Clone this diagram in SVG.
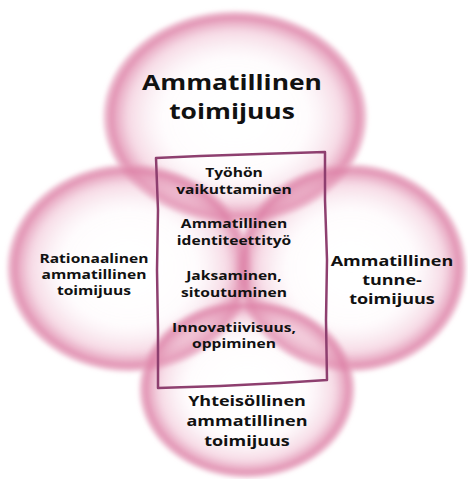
<svg xmlns="http://www.w3.org/2000/svg" width="468" height="479" viewBox="0 0 468 479">
<defs>
<radialGradient id="bubble" cx="50%" cy="50%" r="50%">
<stop offset="0%" stop-color="#ffffff" stop-opacity="0"/>
<stop offset="55%" stop-color="#f4d3e0" stop-opacity="0.08"/>
<stop offset="80%" stop-color="#eaa9c3" stop-opacity="0.42"/>
<stop offset="94%" stop-color="#dc7fa5" stop-opacity="0.85"/>
<stop offset="100%" stop-color="#e8a6c0" stop-opacity="0.5"/>
</radialGradient>
<filter id="soft" x="-10%" y="-10%" width="120%" height="120%">
<feGaussianBlur stdDeviation="2"/>
</filter>
</defs>
<style>
.circ{fill:url(#bubble);filter:url(#soft)}
.big{font-family:"Open Sans","Liberation Sans",sans-serif;font-weight:bold;fill:#111;text-anchor:middle}
.t{font-size:22px}
.m{font-size:15px}
.s{font-size:13px}
.box{fill:none;stroke:#8e3f6f;stroke-width:2.5;stroke-linejoin:round}
</style>
<rect width="468" height="479" fill="#ffffff"/>
<g id="node-top">
<ellipse class="circ" cx="235" cy="117" rx="132" ry="106"/>
<g transform="matrix(1.2 0 0 1 -46.4 0)">
<text class="big t" x="232" y="90">Ammatillinen</text>
<text class="big t" x="232" y="119">toimijuus</text>
</g>
</g>
<g id="node-left">
<ellipse class="circ" cx="129" cy="268" rx="122" ry="104"/>
<g transform="matrix(1.2 0 0 1 -18.8 0)">
<text class="big s" x="94" y="263">Rationaalinen</text>
<text class="big s" x="94" y="279">ammatillinen</text>
<text class="big s" x="94" y="295">toimijuus</text>
</g>
</g>
<g id="node-right">
<ellipse class="circ" cx="351" cy="268" rx="115" ry="104"/>
<g transform="matrix(1.2 0 0 1 -78.4 0)">
<text class="big m" x="392" y="266">Ammatillinen</text>
<text class="big m" x="392" y="285">tunne-</text>
<text class="big m" x="392" y="304">toimijuus</text>
</g>
</g>
<g id="node-bottom">
<ellipse class="circ" cx="247" cy="389" rx="108" ry="89"/>
<g transform="matrix(1.2 0 0 1 -49.4 0)">
<text class="big m" x="247" y="406">Yhteisöllinen</text>
<text class="big m" x="247" y="426">ammatillinen</text>
<text class="big m" x="247" y="446">toimijuus</text>
</g>
</g>
<g id="node-center">
<path class="box" d="M156 158 L200 156 L260 154 L325 152 L325 200 L327 260 L326 320 L327 380 L280 383 L220 386 L158 388 L158 330 L157 270 L158 210 Z"/>
<g transform="matrix(1.2 0 0 1 -46.8 0)">
<text class="big s" x="234" y="177">Työhön</text>
<text class="big s" x="234" y="194">vaikuttaminen</text>
<text class="big s" x="234" y="228">Ammatillinen</text>
<text class="big s" x="234" y="245">identiteettityö</text>
<text class="big s" x="234" y="280">Jaksaminen,</text>
<text class="big s" x="234" y="297">sitoutuminen</text>
<text class="big s" x="234" y="332">Innovatiivisuus,</text>
<text class="big s" x="234" y="348">oppiminen</text>
</g>
</g>
<g id="connectors"/>
</svg>
